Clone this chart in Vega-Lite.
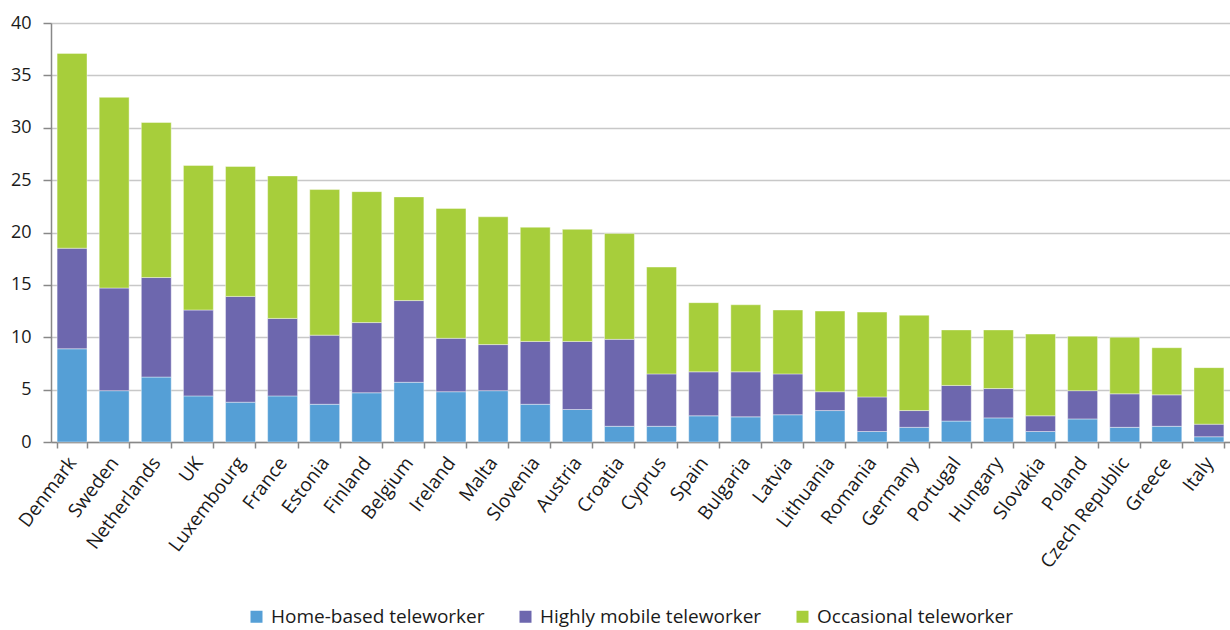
{
  "$schema": "https://vega.github.io/schema/vega-lite/v6.json",
  "width": 1179,
  "height": 419,
  "autosize": "none",
  "padding": {"left": 51, "top": 23, "right": 0, "bottom": 188},
  "background": "white",
  "config": {"view": {"stroke": null}, "font": "Open Sans"},
  "data": {"values": [
    {"country": "Denmark", "type": "Home-based teleworker", "seg": 1, "value": 8.9},
    {"country": "Denmark", "type": "Highly mobile teleworker", "seg": 2, "value": 9.6},
    {"country": "Denmark", "type": "Occasional teleworker", "seg": 3, "value": 18.6},
    {"country": "Sweden", "type": "Home-based teleworker", "seg": 1, "value": 4.9},
    {"country": "Sweden", "type": "Highly mobile teleworker", "seg": 2, "value": 9.8},
    {"country": "Sweden", "type": "Occasional teleworker", "seg": 3, "value": 18.2},
    {"country": "Netherlands", "type": "Home-based teleworker", "seg": 1, "value": 6.2},
    {"country": "Netherlands", "type": "Highly mobile teleworker", "seg": 2, "value": 9.5},
    {"country": "Netherlands", "type": "Occasional teleworker", "seg": 3, "value": 14.8},
    {"country": "UK", "type": "Home-based teleworker", "seg": 1, "value": 4.4},
    {"country": "UK", "type": "Highly mobile teleworker", "seg": 2, "value": 8.2},
    {"country": "UK", "type": "Occasional teleworker", "seg": 3, "value": 13.8},
    {"country": "Luxembourg", "type": "Home-based teleworker", "seg": 1, "value": 3.8},
    {"country": "Luxembourg", "type": "Highly mobile teleworker", "seg": 2, "value": 10.1},
    {"country": "Luxembourg", "type": "Occasional teleworker", "seg": 3, "value": 12.4},
    {"country": "France", "type": "Home-based teleworker", "seg": 1, "value": 4.4},
    {"country": "France", "type": "Highly mobile teleworker", "seg": 2, "value": 7.4},
    {"country": "France", "type": "Occasional teleworker", "seg": 3, "value": 13.6},
    {"country": "Estonia", "type": "Home-based teleworker", "seg": 1, "value": 3.6},
    {"country": "Estonia", "type": "Highly mobile teleworker", "seg": 2, "value": 6.6},
    {"country": "Estonia", "type": "Occasional teleworker", "seg": 3, "value": 13.9},
    {"country": "Finland", "type": "Home-based teleworker", "seg": 1, "value": 4.7},
    {"country": "Finland", "type": "Highly mobile teleworker", "seg": 2, "value": 6.7},
    {"country": "Finland", "type": "Occasional teleworker", "seg": 3, "value": 12.5},
    {"country": "Belgium", "type": "Home-based teleworker", "seg": 1, "value": 5.7},
    {"country": "Belgium", "type": "Highly mobile teleworker", "seg": 2, "value": 7.8},
    {"country": "Belgium", "type": "Occasional teleworker", "seg": 3, "value": 9.9},
    {"country": "Ireland", "type": "Home-based teleworker", "seg": 1, "value": 4.8},
    {"country": "Ireland", "type": "Highly mobile teleworker", "seg": 2, "value": 5.1},
    {"country": "Ireland", "type": "Occasional teleworker", "seg": 3, "value": 12.4},
    {"country": "Malta", "type": "Home-based teleworker", "seg": 1, "value": 4.9},
    {"country": "Malta", "type": "Highly mobile teleworker", "seg": 2, "value": 4.4},
    {"country": "Malta", "type": "Occasional teleworker", "seg": 3, "value": 12.2},
    {"country": "Slovenia", "type": "Home-based teleworker", "seg": 1, "value": 3.6},
    {"country": "Slovenia", "type": "Highly mobile teleworker", "seg": 2, "value": 6.0},
    {"country": "Slovenia", "type": "Occasional teleworker", "seg": 3, "value": 10.9},
    {"country": "Austria", "type": "Home-based teleworker", "seg": 1, "value": 3.1},
    {"country": "Austria", "type": "Highly mobile teleworker", "seg": 2, "value": 6.5},
    {"country": "Austria", "type": "Occasional teleworker", "seg": 3, "value": 10.7},
    {"country": "Croatia", "type": "Home-based teleworker", "seg": 1, "value": 1.5},
    {"country": "Croatia", "type": "Highly mobile teleworker", "seg": 2, "value": 8.3},
    {"country": "Croatia", "type": "Occasional teleworker", "seg": 3, "value": 10.1},
    {"country": "Cyprus", "type": "Home-based teleworker", "seg": 1, "value": 1.5},
    {"country": "Cyprus", "type": "Highly mobile teleworker", "seg": 2, "value": 5.0},
    {"country": "Cyprus", "type": "Occasional teleworker", "seg": 3, "value": 10.2},
    {"country": "Spain", "type": "Home-based teleworker", "seg": 1, "value": 2.5},
    {"country": "Spain", "type": "Highly mobile teleworker", "seg": 2, "value": 4.2},
    {"country": "Spain", "type": "Occasional teleworker", "seg": 3, "value": 6.6},
    {"country": "Bulgaria", "type": "Home-based teleworker", "seg": 1, "value": 2.4},
    {"country": "Bulgaria", "type": "Highly mobile teleworker", "seg": 2, "value": 4.3},
    {"country": "Bulgaria", "type": "Occasional teleworker", "seg": 3, "value": 6.4},
    {"country": "Latvia", "type": "Home-based teleworker", "seg": 1, "value": 2.6},
    {"country": "Latvia", "type": "Highly mobile teleworker", "seg": 2, "value": 3.9},
    {"country": "Latvia", "type": "Occasional teleworker", "seg": 3, "value": 6.1},
    {"country": "Lithuania", "type": "Home-based teleworker", "seg": 1, "value": 3.0},
    {"country": "Lithuania", "type": "Highly mobile teleworker", "seg": 2, "value": 1.8},
    {"country": "Lithuania", "type": "Occasional teleworker", "seg": 3, "value": 7.7},
    {"country": "Romania", "type": "Home-based teleworker", "seg": 1, "value": 1.0},
    {"country": "Romania", "type": "Highly mobile teleworker", "seg": 2, "value": 3.3},
    {"country": "Romania", "type": "Occasional teleworker", "seg": 3, "value": 8.1},
    {"country": "Germany", "type": "Home-based teleworker", "seg": 1, "value": 1.4},
    {"country": "Germany", "type": "Highly mobile teleworker", "seg": 2, "value": 1.6},
    {"country": "Germany", "type": "Occasional teleworker", "seg": 3, "value": 9.1},
    {"country": "Portugal", "type": "Home-based teleworker", "seg": 1, "value": 2.0},
    {"country": "Portugal", "type": "Highly mobile teleworker", "seg": 2, "value": 3.4},
    {"country": "Portugal", "type": "Occasional teleworker", "seg": 3, "value": 5.3},
    {"country": "Hungary", "type": "Home-based teleworker", "seg": 1, "value": 2.3},
    {"country": "Hungary", "type": "Highly mobile teleworker", "seg": 2, "value": 2.8},
    {"country": "Hungary", "type": "Occasional teleworker", "seg": 3, "value": 5.6},
    {"country": "Slovakia", "type": "Home-based teleworker", "seg": 1, "value": 1.0},
    {"country": "Slovakia", "type": "Highly mobile teleworker", "seg": 2, "value": 1.5},
    {"country": "Slovakia", "type": "Occasional teleworker", "seg": 3, "value": 7.8},
    {"country": "Poland", "type": "Home-based teleworker", "seg": 1, "value": 2.2},
    {"country": "Poland", "type": "Highly mobile teleworker", "seg": 2, "value": 2.7},
    {"country": "Poland", "type": "Occasional teleworker", "seg": 3, "value": 5.2},
    {"country": "Czech Republic", "type": "Home-based teleworker", "seg": 1, "value": 1.4},
    {"country": "Czech Republic", "type": "Highly mobile teleworker", "seg": 2, "value": 3.2},
    {"country": "Czech Republic", "type": "Occasional teleworker", "seg": 3, "value": 5.4},
    {"country": "Greece", "type": "Home-based teleworker", "seg": 1, "value": 1.5},
    {"country": "Greece", "type": "Highly mobile teleworker", "seg": 2, "value": 3.0},
    {"country": "Greece", "type": "Occasional teleworker", "seg": 3, "value": 4.5},
    {"country": "Italy", "type": "Home-based teleworker", "seg": 1, "value": 0.5},
    {"country": "Italy", "type": "Highly mobile teleworker", "seg": 2, "value": 1.2},
    {"country": "Italy", "type": "Occasional teleworker", "seg": 3, "value": 5.4}
  ]},
  "mark": {"type": "bar", "stroke": "white", "strokeWidth": 0.8, "strokeOpacity": 0.5},
  "encoding": {
    "x": {
      "field": "country", "type": "nominal", "sort": null,
      "scale": {"paddingInner": 0.29, "paddingOuter": 0.145},
      "axis": {
        "title": null, "labelAngle": -53, "labelFontSize": 19, "labelColor": "#1a1a1a",
        "labelPadding": 11, "tickBand": "extent", "tickSize": 6, "tickColor": "#888888",
        "tickWidth": 1.5, "domainColor": "#888888", "domainWidth": 1.5, "labelLimit": 300
      }
    },
    "y": {
      "field": "value", "type": "quantitative", "stack": "zero",
      "scale": {"domain": [0, 40], "nice": false},
      "axis": {
        "title": null, "values": [0, 5, 10, 15, 20, 25, 30, 35, 40],
        "gridColor": "#c8c8c8", "gridWidth": 1.5, "domainColor": "#888888", "domainWidth": 1.5,
        "tickColor": "#888888", "tickWidth": 1.5, "tickSize": 8, "labelFontSize": 18,
        "labelColor": "#1a1a1a", "labelPadding": 12
      }
    },
    "color": {
      "field": "type", "type": "nominal",
      "scale": {
        "domain": ["Home-based teleworker", "Highly mobile teleworker", "Occasional teleworker"],
        "range": ["#559fd6", "#6d67ae", "#a7ce3b"]
      },
      "legend": {
        "title": null, "orient": "none", "direction": "horizontal", "legendX": 196, "legendY": 584,
        "symbolType": "square", "symbolSize": 144, "symbolStrokeWidth": 0, "symbolOpacity": 1,
        "labelFontSize": 19, "labelColor": "#1a1a1a", "labelOffset": 5, "columnPadding": 31, "labelLimit": 400
      }
    },
    "order": {"field": "seg", "type": "quantitative", "sort": "ascending"}
  }
}
